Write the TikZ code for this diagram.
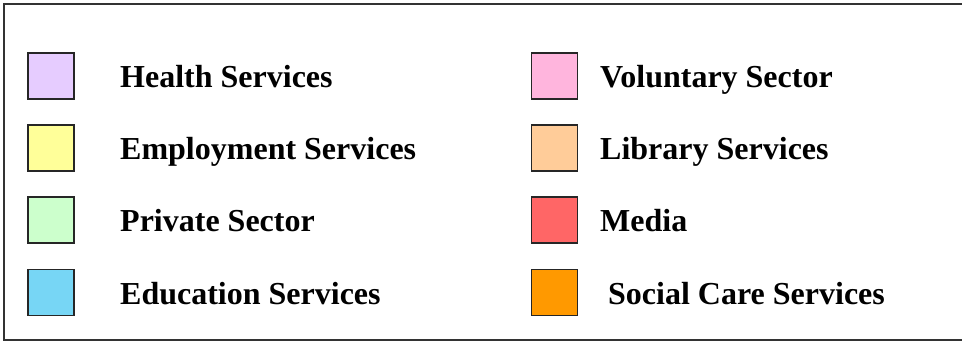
\documentclass[tikz,border=0pt]{standalone}
\usepackage{fontspec}
\setmainfont{Liberation Serif}
\definecolor{health}{HTML}{E6CCFF}
\definecolor{employ}{HTML}{FFFF99}
\definecolor{private}{HTML}{CCFFCC}
\definecolor{educ}{HTML}{77D6F5}
\definecolor{volun}{HTML}{FFB5DD}
\definecolor{library}{HTML}{FFCC99}
\definecolor{media}{HTML}{FF6666}
\definecolor{social}{HTML}{FF9900}
\begin{document}
\begin{tikzpicture}[x=1pt,y=-1pt,
  swatch/.style={draw=black!85,line width=1.8pt,minimum size=46pt,inner sep=0pt,fill=#1},
  label/.style={anchor=base west,inner sep=0pt,font=\fontsize{32}{36}\selectfont\bfseries}]
\useasboundingbox (0,0) rectangle (962,342);
% outer frame, running off the right edge
\draw[draw=black!80,line width=2pt] (975,4) -- (4,4) -- (4,339.5) -- (975,339.5);
% left column
\node[swatch=health]  (s1) at (51,76)  {};
\node[swatch=employ]  (s2) at (51,148) {};
\node[swatch=private] (s3) at (51,220) {};
\node[swatch=educ]    (s4) at (51,292.5) {};
\node[label] (t1) at (120,88)  {Health Services};
\node[label] (t2) at (120,160) {Employment Services};
\node[label] (t3) at (120,232) {Private Sector};
\node[label] (t4) at (120,304) {Education Services};
% right column
\node[swatch=volun]   (s5) at (554.5,76)  {};
\node[swatch=library] (s6) at (554.5,148) {};
\node[swatch=media]   (s7) at (554.5,220) {};
\node[swatch=social]  (s8) at (554.5,292.5) {};
\node[label] (t5) at (600,88)  {Voluntary Sector};
\node[label] (t6) at (600,160) {Library Services};
\node[label] (t7) at (600,232) {Media};
\node[label] (t8) at (608,304) {Social Care Services};
\end{tikzpicture}
\end{document}
